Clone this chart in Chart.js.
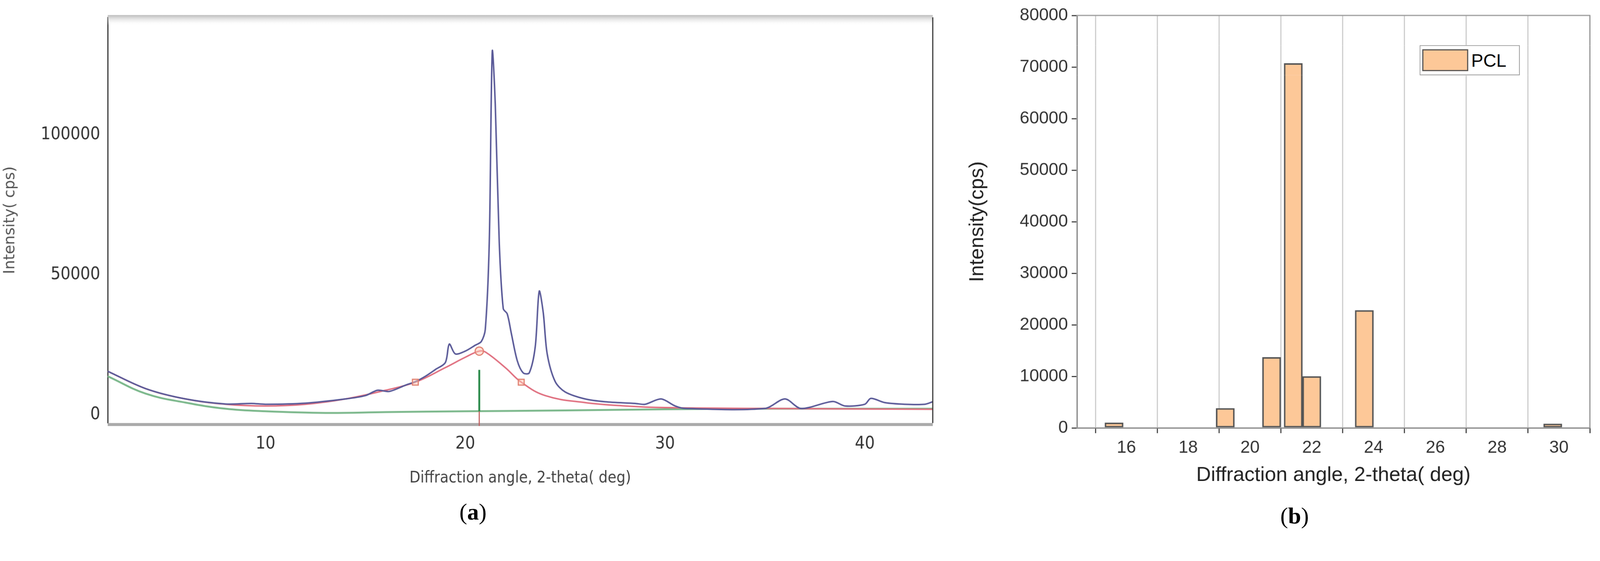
<!DOCTYPE html>
<html><head><meta charset="utf-8">
<script src="https://cdn.jsdelivr.net/npm/chart.js@4"></script>
<style>
html,body{margin:0;background:#fff;overflow:hidden}
#root{width:4249px;height:1437px;position:absolute;left:0;top:0;transform-origin:0 0;font-family:"Liberation Sans",Arial,sans-serif}
#wa{position:absolute;left:0;top:0;width:2540px;height:1300px}
#wb{position:absolute;left:2560px;top:0;width:1689px;height:1300px}
.cap{position:absolute;font-family:"Liberation Serif",serif;font-size:62px}
#leg{position:absolute;left:3770px;top:120px;width:262px;height:76px;border:2px solid #999;background:#fff;font-size:48px;display:flex;align-items:center}
#leg span.sw{display:inline-block;width:122px;height:58px;background:#FDC898;border:3px solid #555;margin:0 8px 0 5px;box-sizing:border-box}
</style></head><body>
<div id="root">
<div id="wa"><canvas id="ca"></canvas></div>
<div id="wb"><canvas id="cb"></canvas></div>
<div class="cap" style="left:1220px;top:1325px">(<b>a</b>)</div>
<div class="cap" style="left:3400px;top:1335px">(<b>b</b>)</div>
<div id="leg"><span class="sw"></span>PCL</div>
</div>
<script>
// Panel (a) XRD pattern
const measuredX = [2.1,4,6,8,9.3,10,12,14,15,15.6,16.2,17,17.5,18,18.5,19,19.2,19.5,20,20.5,20.8,21.0,21.2,21.35,21.5,21.7,21.9,22.1,22.3,22.6,22.9,23.2,23.5,23.7,23.9,24.1,24.5,25,26,27,28.5,29,29.8,30.5,31,35,36.0,36.8,38.4,39,40,40.3,41,42,43,43.4];
const measuredY = [15500,9300,5600,3800,4000,3700,4100,5600,6800,8700,8300,10500,11800,13700,16100,18600,25200,21700,22700,24800,26100,30400,61500,129800,111000,61500,37900,36000,29200,19300,14900,14900,24200,44100,36600,21700,11800,8100,5600,4600,4000,3700,5600,3100,2200,2200,5600,2200,4700,3100,3700,5800,4300,3700,3700,4600];
const fitX = [2.1,4,6,8,10,12,14,16,17.5,19,20,20.7,21,22,22.8,24,26,28,30,35,43.4];
const fitY = [15500,9300,5600,3700,3100,3700,5600,8700,11600,16800,20500,22700,22400,16800,11600,6800,4300,3100,2500,2200,1900];
const baseX = [2.1,4,6,8,10,13,16,20,25,30,35,43.4];
const baseY = [13700,7500,4300,2100,1200,600,900,1200,1500,1900,2100,2100];
const markX = [17.5,20.7,22.8];
const markY = [11600,22700,11600];
const aTicks = [0,50000,100000];
const aXTicks = [10,20,30,40];
// Panel (b) peak intensities
const peakAngles = [15.6,19.2,20.7,21.4,22.0,23.7,29.8];
const peakIntensity = [1000,3800,13700,70700,10000,22800,800];
const bTicks = [16,18,20,22,24,26,28,30];

const sc=window.innerWidth/4249;
document.getElementById('root').style.transform='scale('+sc+')';

const pts=(xs,ys)=>xs.map((x,i)=>({x,y:ys[i]}));
const plain=v=>String(v);
const frame={id:'frame',afterDraw(c){const a=c.chartArea,g=c.ctx;g.save();
 if(c.canvas.id==='ca'){const gr=g.createLinearGradient(0,a.top-6,0,a.top+22);gr.addColorStop(0,'#bbb');gr.addColorStop(1,'rgba(255,255,255,0)');g.fillStyle=gr;g.fillRect(a.left,a.top-6,a.right-a.left,28);
  g.strokeStyle='#333';g.lineWidth=3;g.beginPath();g.moveTo(a.right,a.top);g.lineTo(a.right,a.bottom);g.stroke();
  g.strokeStyle='#aaa';g.lineWidth=8;g.beginPath();g.moveTo(a.left,a.bottom+4);g.lineTo(a.right,a.bottom+4);g.stroke();
  const xs=c.scales.x,ys=c.scales.y,px=xs.getPixelForValue(20.7);
  g.lineWidth=3;g.strokeStyle='#c06060';g.beginPath();g.moveTo(px,a.bottom+8);g.lineTo(px,ys.getPixelForValue(1200));g.stroke();
  g.lineWidth=5;g.strokeStyle='#2a8a4a';g.beginPath();g.moveTo(px,ys.getPixelForValue(1200));g.lineTo(px,ys.getPixelForValue(16000));g.stroke();
 } else {g.strokeStyle='#999';g.lineWidth=3;g.strokeRect(a.left,a.top,a.right-a.left,a.bottom-a.top);}
 g.restore();}};

new Chart(document.getElementById('ca'),{type:'scatter',plugins:[frame],
 data:{datasets:[
  {data:pts(markX,markY),showLine:false,pointStyle:['rect','circle','rect'],pointRadius:11,pointBackgroundColor:'rgba(255,200,180,0.5)',pointBorderColor:'#e08070',pointBorderWidth:3},
  {data:pts(measuredX,measuredY),showLine:true,borderColor:'#5a5a98',borderWidth:4,pointRadius:0,tension:0.3},
  {data:pts(fitX,fitY),showLine:true,borderColor:'#e07080',borderWidth:4,pointRadius:0,tension:0.4},
  {data:pts(baseX,baseY),showLine:true,borderColor:'#7cb88c',borderWidth:5,pointRadius:0,tension:0.4}
 ]},
 options:{responsive:true,maintainAspectRatio:false,animation:false,devicePixelRatio:1,
  layout:{padding:{top:46,right:63,left:0,bottom:0}},
  plugins:{legend:{display:false},tooltip:{enabled:false}},
  scales:{
   x:{type:'linear',min:2.1,max:43.4,afterBuildTicks:s=>{s.ticks=aXTicks.map(v=>({value:v}))},
      afterFit:s=>{s.height=176},grid:{display:false},border:{display:false},
      ticks:{autoSkip:false,color:'#333',font:{size:46,family:'DejaVu Sans Condensed, Open Sans'},padding:20,callback:plain},
      title:{display:true,text:'Diffraction angle, 2-theta( deg)',color:'#444',font:{size:42,family:'DejaVu Sans Condensed, Open Sans'},padding:{top:20}}},
   y:{min:-3000,max:142000,afterBuildTicks:s=>{s.ticks=aTicks.map(v=>({value:v}))},
      afterFit:s=>{s.width=286},grid:{display:false},border:{display:true,color:'#333',width:3},
      ticks:{autoSkip:false,color:'#333',font:{size:46,family:'DejaVu Sans Condensed, Open Sans'},padding:12,callback:plain},
      title:{display:true,text:'Intensity( cps)',color:'#555',font:{size:40,family:'DejaVu Sans'},padding:{bottom:50}}}
  }}});

new Chart(document.getElementById('cb'),{type:'bar',plugins:[frame],
 data:{datasets:[{label:'PCL',data:pts(peakAngles,peakIntensity),backgroundColor:'#FDC898',borderColor:'#555',borderWidth:4,barThickness:49,borderSkipped:false}]},
 options:{responsive:true,maintainAspectRatio:false,animation:false,devicePixelRatio:1,
  layout:{padding:{top:41,right:27,left:0,bottom:0}},
  plugins:{legend:{display:false},tooltip:{enabled:false}},
  scales:{
   x:{type:'linear',min:14.4,max:31,offset:false,afterBuildTicks:s=>{s.ticks=bTicks.map(v=>({value:v}))},
      afterFit:s=>{s.height=163},grid:{display:true,color:'#ccc',lineWidth:3,tickLength:14,tickColor:'#444'},border:{display:true,color:'#444',width:3},
      ticks:{autoSkip:false,color:'#333',font:{size:46,family:'Liberation Sans'},padding:12,callback:plain},
      title:{display:true,text:'Diffraction angle, 2-theta( deg)',color:'#222',font:{size:54,family:'Liberation Sans'},padding:{top:20}}},
   y:{min:0,max:80000,ticks:{stepSize:10000,color:'#333',font:{size:46,family:'Liberation Sans'},padding:10,callback:plain},
      afterFit:s=>{s.width=300},grid:{display:true,drawOnChartArea:false,tickLength:14,tickColor:'#444',lineWidth:3},border:{display:true,color:'#444',width:3},
      title:{display:true,text:'Intensity(cps)',color:'#222',font:{size:54,family:'Liberation Sans'},padding:{bottom:10}}}
  }}});
</script></body></html>
